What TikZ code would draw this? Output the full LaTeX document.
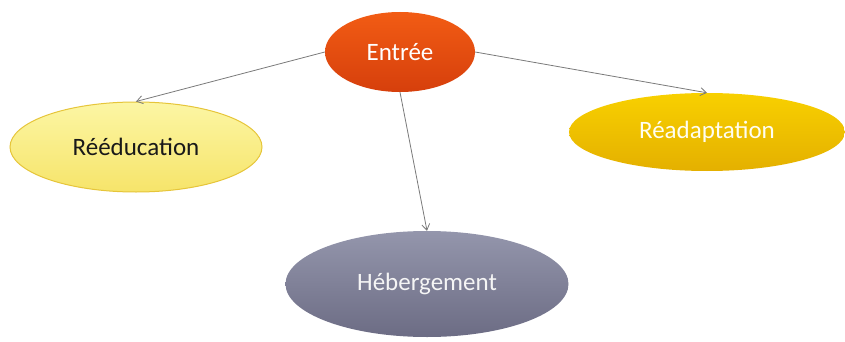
\documentclass[tikz,border=0pt]{standalone}
\usepackage{fontspec}
\setmainfont{Carlito}
\usepackage{xcolor}
\usepackage{tikz}
\usetikzlibrary{shapes.geometric, arrows.meta}
\definecolor{entreetop}{HTML}{F25C14}
\definecolor{entreebot}{HTML}{D63F0C}
\definecolor{reedtop}{HTML}{FCF6A4}
\definecolor{reedbot}{HTML}{F6E46A}
\definecolor{reedline}{HTML}{E6C53A}
\definecolor{readtop}{HTML}{F8D000}
\definecolor{readbot}{HTML}{E4B000}
\definecolor{hebtop}{HTML}{9496AC}
\definecolor{hebbot}{HTML}{6C6C84}
\definecolor{linkgray}{HTML}{7A7A7A}
\tikzset{
  bubble/.style={
    ellipse, inner sep=0pt,
    text centered, font=\fontsize{25}{30}\selectfont,
  },
  link/.style={-{Straight Barb[length=6pt,width=8pt]}, line width=0.8pt, color=linkgray},
}

\begin{document}
\begin{tikzpicture}[x=1pt, y=-1pt]
  \useasboundingbox (0,0) rectangle (845,342);
  \node[bubble, minimum width=150pt, minimum height=80pt,
        top color=entreetop, bottom color=entreebot, text=white] (entree) at (400,52) {Entrée};
  \node[bubble, minimum width=252pt, minimum height=90pt,
        top color=reedtop, bottom color=reedbot, draw=reedline, line width=1pt,
        text=black!90] (reeducation) at (136,147) {Rééducation};
  \node[bubble, minimum width=276pt, minimum height=78pt,
        top color=readtop, bottom color=readbot, text=white!95!yellow] (readaptation) at (707,132) {Réadaptation};
  \node[bubble, minimum width=283pt, minimum height=106pt,
        top color=hebtop, bottom color=hebbot, text=white!92!gray] (hebergement) at (427,284) {Hébergement};
  \draw[link] (entree.west)--(reeducation.north);
  \draw[link] (entree.east)--(readaptation.north);
  \draw[link] (entree.south)--(hebergement.north);
\end{tikzpicture}
\end{document}
